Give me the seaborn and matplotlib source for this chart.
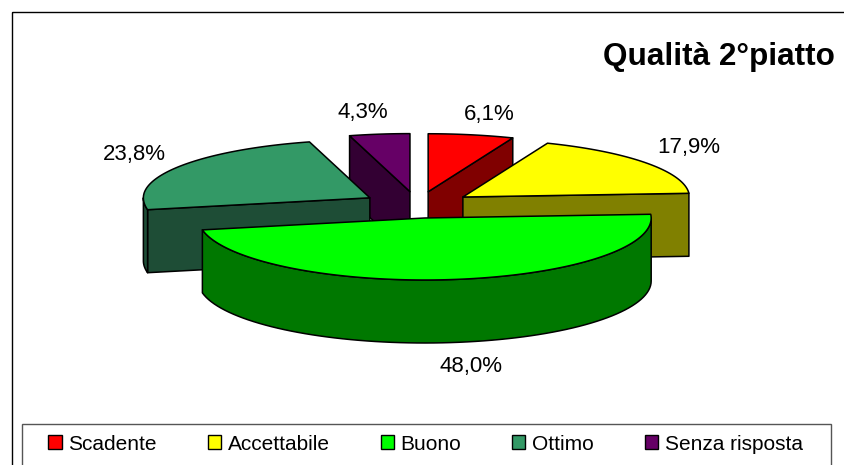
import numpy as np
import matplotlib
matplotlib.use("Agg")
import matplotlib.pyplot as plt
from matplotlib.patches import Polygon, Rectangle, Patch
import seaborn as sns

# --- data ---
categories = ["Scadente", "Accettabile", "Buono", "Ottimo", "Senza risposta"]
percent = [6.1, 17.9, 48.0, 23.8, 4.3]
chart_title = "Qualità 2°piatto"

# --- style / layout (pixel space of the 845x465 canvas) ---
top_hex = ["#FF0000", "#FFFF00", "#00FF00", "#339966", "#660066"]
side_hex = ["#800000", "#808000", "#007800", "#1E4D36", "#330033"]
CX, CY = 417.5, 204.8
EXPLODE_X, EXPLODE_Y = 56.0, 13.3
RX = 226.5
RY_BACK, RY_FRONT = 58.0, 62.0
DEPTH = 63.0
draw_order = [4, 0, 3, 1, 2]
label_xy = [(489, 114), (689, 147), (471, 366), (134, 154), (363, 112)]

sns.set_theme(style="white")
plt.rcParams["font.family"] = ["Liberation Sans", "DejaVu Sans"]
top_cols = sns.color_palette(top_hex)
side_cols = sns.color_palette(side_hex)

fig = plt.figure(figsize=(8.45, 4.65), dpi=100, facecolor="white")
ax = fig.add_axes([0, 0, 1, 1])
ax.set_xlim(0, 845)
ax.set_ylim(465, 0)
ax.axis("off")

# chart frame
ax.add_patch(Rectangle((12, 12.5), 900, 600, fill=False, ec="black", lw=1.0, zorder=1))

shares = np.array(percent) / np.sum(percent)
edges = np.concatenate([[0], np.cumsum(shares)]) * 2 * np.pi


def rim(ax_x, ax_y, t):
    c = np.cos(t)
    ry = np.where(c > 0, RY_BACK, RY_FRONT)
    return np.column_stack([ax_x + RX * np.sin(t), ax_y - ry * c])


z = 2
for i in draw_order:
    t0, t1 = edges[i], edges[i + 1]
    mid = (t0 + t1) / 2
    px = CX + EXPLODE_X * np.sin(mid)
    py = CY - EXPLODE_Y * np.cos(mid)
    apex = np.array([px, py])
    down = np.array([0, DEPTH])
    style = dict(ec="black", lw=1.1, joinstyle="round")
    # radial faces that look towards the viewer
    for t, sign in ((t0, -1), (t1, 1)):
        if sign * np.sin(t) > 1e-6:
            p = rim(px, py, np.array([t]))[0]
            ax.add_patch(Polygon([apex, p, p + down, apex + down],
                                 fc=side_cols[i], zorder=z, **style))
            z += 1
    # outer wall: the part of the rim on the front half
    a, b = max(t0, np.pi / 2), min(t1, 3 * np.pi / 2)
    if b > a:
        arc = rim(px, py, np.linspace(a, b, 80))
        ax.add_patch(Polygon(np.vstack([arc, arc[::-1] + down]),
                             fc=side_cols[i], zorder=z, **style))
        z += 1
    # top face
    arc = rim(px, py, np.linspace(t0, t1, 120))
    ax.add_patch(Polygon(np.vstack([apex, arc]), fc=top_cols[i], zorder=z, **style))
    z += 1

# value labels
for v, (x, y) in zip(percent, label_xy):
    ax.text(x, y, f"{v:.1f}".replace(".", ",") + "%", ha="center", va="center",
            fontsize=16, color="black", zorder=50)

# title
ax.text(835, 57, chart_title, ha="right", va="center", fontsize=22.7,
        fontweight="bold", color="black", zorder=50)

# legend
ax.add_patch(Rectangle((22, 423.5), 809, 80, fc="white", ec="#555555", lw=1.0, zorder=40))
handles = [Patch(fc=c, ec="black", lw=1.0) for c in top_cols]
leg = ax.legend(handles, categories, ncol=5, frameon=False, fontsize=15.0,
                loc="center left", bbox_to_anchor=(48.5, 444), bbox_transform=ax.transData,
                borderpad=0, borderaxespad=0, handlelength=0.625, handleheight=0.625,
                handletextpad=0.33, columnspacing=2.445, labelcolor="black")
leg.set_zorder(60)

fig.savefig("out.png", dpi=100, facecolor="white")
